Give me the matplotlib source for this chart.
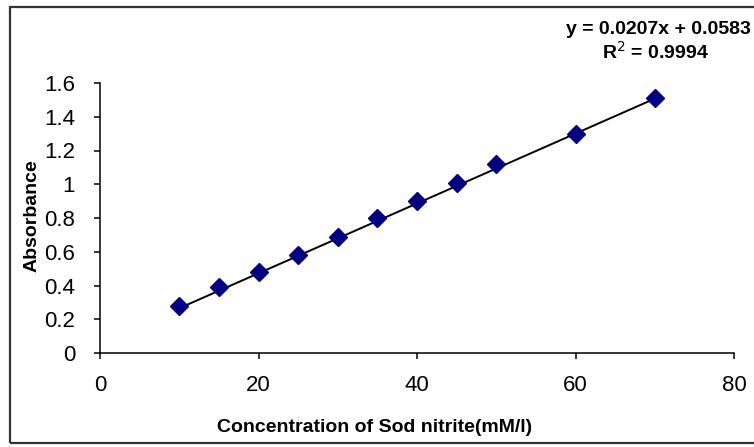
import matplotlib.pyplot as plt
import numpy as np
from matplotlib.patches import Rectangle

concentration = [10, 15, 20, 25, 30, 35, 40, 45, 50, 60, 70]
absorbance = [0.28, 0.39, 0.48, 0.58, 0.69, 0.80, 0.90, 1.01, 1.12, 1.30, 1.51]

slope = 0.0207
intercept = 0.0583
r_squared = 0.9994

x_ticks = [0, 20, 40, 60, 80]
y_ticks = [0, 0.2, 0.4, 0.6, 0.8, 1, 1.2, 1.4, 1.6]
y_tick_labels = ["0", "0.2", "0.4", "0.6", "0.8", "1", "1.2", "1.4", "1.6"]


def plot() -> plt.Figure:
    plt.rcParams["font.family"] = ["Liberation Sans", "DejaVu Sans"]

    fig = plt.figure(figsize=(7.54, 4.47), dpi=100)
    ax = fig.add_axes([100 / 754, 1 - 353 / 447, 634 / 754, 270 / 447])

    # chart area border (right side falls off the picture)
    fig.patches.append(Rectangle((10 / 754, 1 - 443 / 447), 1.2, 436 / 447,
                                 transform=fig.transFigure, fill=False,
                                 edgecolor="#333333", linewidth=1.6))

    trend_x = np.array([concentration[0], concentration[-1]])
    ax.plot(trend_x, slope * trend_x + intercept, color="black", linewidth=1.4, zorder=2)
    ax.plot(concentration, absorbance, linestyle="none", marker="D",
            markersize=9, color="#000080", zorder=3)

    ax.set_xlim(0, 80)
    ax.set_ylim(0, 1.6)
    ax.set_xticks(x_ticks)
    ax.set_yticks(y_ticks, y_tick_labels)
    ax.tick_params(direction="out", length=4, width=1.1, labelsize=16)
    ax.tick_params(axis="x", pad=12)
    ax.tick_params(axis="y", pad=14)

    ax.spines[["right", "top"]].set_visible(False)
    ax.spines[["left", "bottom"]].set_linewidth(1.1)

    fig.text(32 / 754, 1 - 216 / 447, "Absorbance", rotation=90, ha="center", va="center",
             fontsize=14, fontweight="bold")
    fig.text(375 / 754, 1 - 428 / 447, "Concentration of Sod nitrite(mM/l)", ha="center",
             va="center", fontsize=14, fontweight="bold")

    fig.text(658 / 754, 1 - 30 / 447, f"y = {slope}x + {intercept}", ha="center", va="center",
             fontsize=14, fontweight="bold")
    fig.text(656 / 754, 1 - 52 / 447, f"R$^2$ = {r_squared}", ha="center", va="center",
             fontsize=14, fontweight="bold")

    return fig


def main():
    fig = plot()
    fig.savefig("out.png", dpi=100)


if __name__ == "__main__":
    main()
